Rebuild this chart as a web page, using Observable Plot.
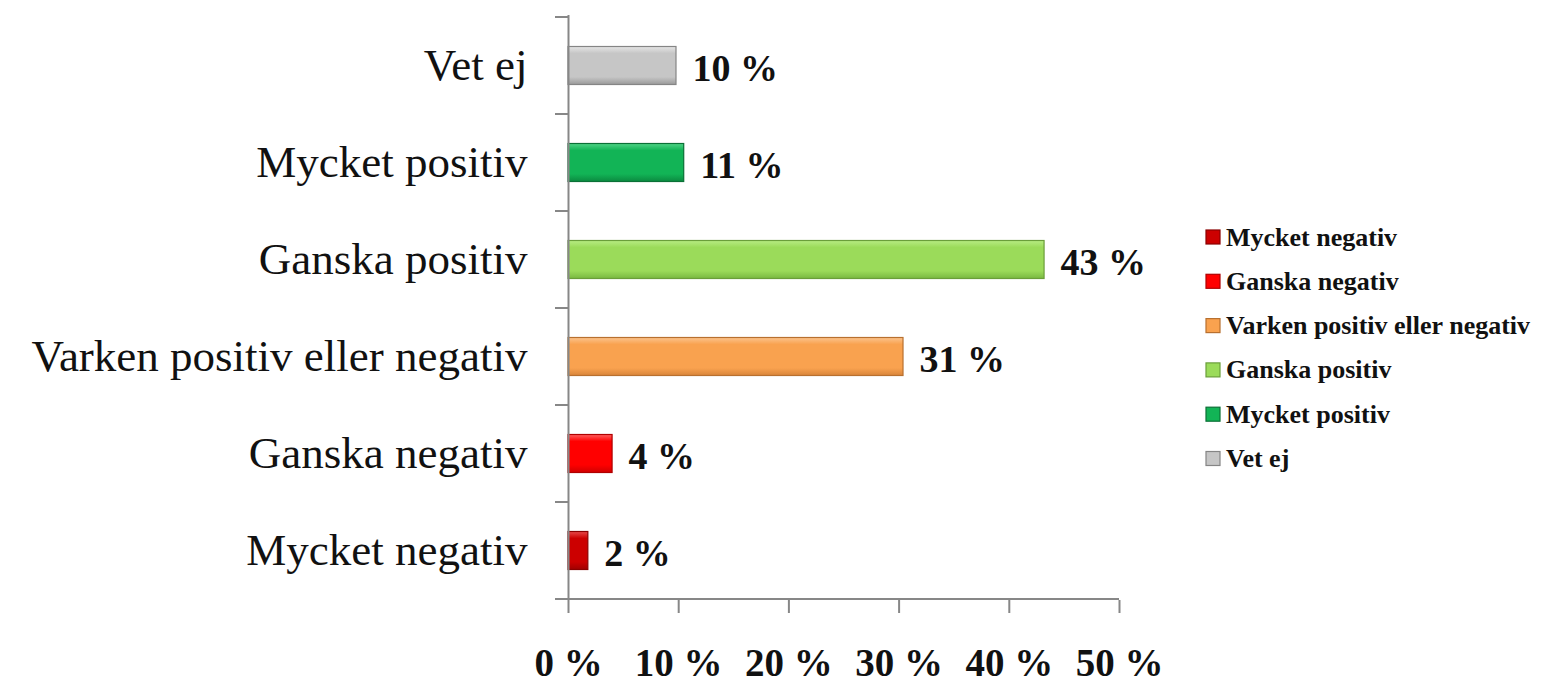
<!DOCTYPE html>
<html>
<head>
<meta charset="utf-8">
<script src="https://cdn.jsdelivr.net/npm/d3@7"></script>
<script src="https://cdn.jsdelivr.net/npm/@observablehq/plot@0.6"></script>
<style>
  html, body { margin: 0; padding: 0; background: #fff; }
  #chart { width: 1550px; height: 683px; overflow: hidden; }
</style>
</head>
<body>
<div id="chart"></div>
<script>
// Categories, top to bottom as drawn
const categories = ["Vet ej", "Mycket positiv", "Ganska positiv", "Varken positiv eller negativ", "Ganska negativ", "Mycket negativ"];
const values = [9.8, 10.5, 43.2, 30.4, 4.0, 1.8];
const valueLabels = ["10 %", "11 %", "43 %", "31 %", "4 %", "2 %"];
const xTicks = [0, 10, 20, 30, 40, 50];
// Legend order (as in original legend)
const legendOrder = ["Mycket negativ", "Ganska negativ", "Varken positiv eller negativ", "Ganska positiv", "Mycket positiv", "Vet ej"];
const colors = {
  "Vet ej": ["#e6e6e6", "#c6c6c6", "#9a9a9a", "#858585"],
  "Mycket positiv": ["#4fd486", "#12b456", "#0b8a40", "#0a7036"],
  "Ganska positiv": ["#b8ec84", "#9bdb5a", "#79b841", "#6a9e3a"],
  "Varken positiv eller negativ": ["#fcc48e", "#f9a24f", "#d9853a", "#b8702f"],
  "Ganska negativ": ["#ff6060", "#ff0000", "#d00000", "#b00000"],
  "Mycket negativ": ["#e84a4a", "#cc0000", "#a00000", "#8a0000"]
};

const data = categories.map((c, i) => ({cat: c, value: values[i], label: valueLabels[i], gid: "grad" + i}));

const serif = "'Liberation Serif', 'DejaVu Serif', serif";
const axisColor = "#878787";

const plot = Plot.plot({
  width: 1550,
  height: 683,
  marginLeft: 568,
  marginRight: 431,
  marginTop: 15,
  marginBottom: 83,
  style: {fontFamily: serif, background: "white", overflow: "visible"},
  x: {domain: [0, 50], ticks: xTicks, label: null},
  y: {domain: categories, padding: 0, label: null},
  marks: [
    ...data.map(d => Plot.barX([d], {
      y: "cat", x: "value",
      fill: `url(#${d.gid})`,
      stroke: colors[d.cat][3], strokeWidth: 1.2,
      insetTop: 29.5, insetBottom: 29.5
    })),
    Plot.text(data, {
      y: "cat", x: "value", text: "label",
      textAnchor: "start", dx: 16, dy: 3,
      fontSize: 38, fontWeight: "bold", fill: "#111"
    }),
    Plot.ruleX([0], {stroke: axisColor, strokeWidth: 2}),
    Plot.axisX({
      ticks: xTicks, tickFormat: d => d + " %", tickSize: 13, tickPadding: 35,
      stroke: axisColor, strokeWidth: 2, fontSize: 39, fontWeight: "bold", fill: "#111", label: null
    }),
    Plot.axisY({tickSize: 0, tickPadding: 41, fontSize: 45, fill: "#111", label: null})
  ]
});

document.getElementById("chart").appendChild(plot);

// Post-processing: gradients, y boundary ticks, x domain line, legend
const svg = d3.select(plot);
const defs = svg.insert("defs", ":first-child");
data.forEach(d => {
  const c = colors[d.cat];
  const g = defs.append("linearGradient").attr("id", d.gid).attr("x1", 0).attr("y1", 0).attr("x2", 0).attr("y2", 1);
  g.append("stop").attr("offset", "0%").attr("stop-color", c[0]);
  g.append("stop").attr("offset", "18%").attr("stop-color", c[1]);
  g.append("stop").attr("offset", "80%").attr("stop-color", c[1]);
  g.append("stop").attr("offset", "100%").attr("stop-color", c[2]);
});

const ys = plot.scale("y");
const xs = plot.scale("x");
const x0 = xs.apply(0);
const xEnd = xs.apply(50);
const bounds = categories.map(c => ys.apply(c));
bounds.push(ys.apply(categories[categories.length - 1]) + ys.bandwidth);
const gAxis = svg.append("g").attr("stroke", axisColor).attr("stroke-width", 2);
bounds.forEach(b => {
  gAxis.append("line").attr("x1", x0 - 13).attr("x2", x0).attr("y1", b).attr("y2", b);
});
const yBottom = bounds[bounds.length - 1];
gAxis.append("line").attr("x1", x0).attr("x2", xEnd).attr("y1", yBottom).attr("y2", yBottom);

// Legend
const legend = svg.append("g").attr("font-family", serif).attr("font-weight", "bold")
  .attr("font-size", 26).attr("fill", "#111").attr("text-anchor", "start");
legendOrder.forEach((c, i) => {
  const cy = 237 + i * 44.3;
  const c4 = colors[c];
  legend.append("rect").attr("x", 1206).attr("y", cy - 7).attr("width", 14).attr("height", 14)
    .attr("fill", c4[1]).attr("stroke", c4[3]).attr("stroke-width", 1.2);
  legend.append("text").attr("x", 1226).attr("y", cy).attr("dy", "0.33em").text(c);
});
</script>
</body>
</html>
